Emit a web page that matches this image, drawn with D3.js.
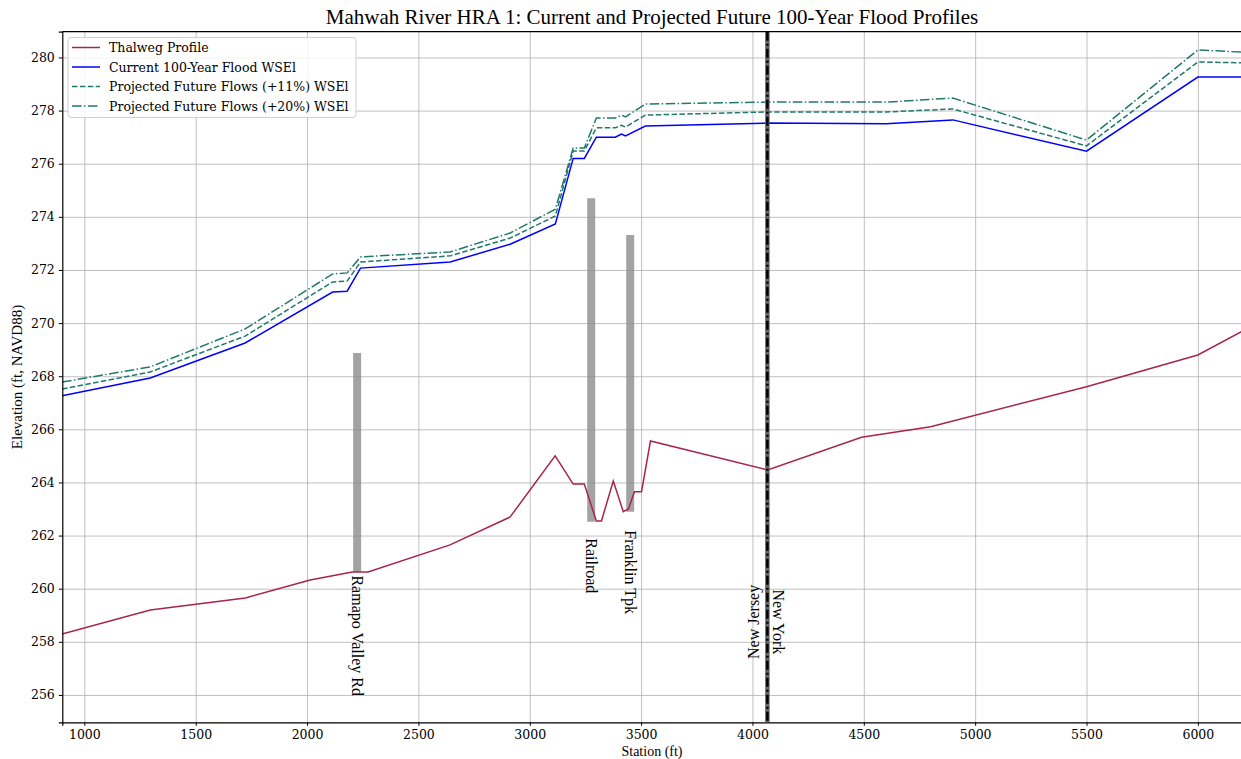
<!DOCTYPE html>
<html>
<head>
<meta charset="utf-8">
<script src="https://d3js.org/d3.v7.min.js"></script>
<style>
  body { margin: 0; background: #fff; }
  .grid line { stroke: #b0b0b0; stroke-width: 0.8; }
</style>
</head>
<body>
<svg id="chart"></svg>
<script>
// Data
// --------------------------------------------------------
const thalwegStation = [900, 1296, 1723, 2014, 2203, 2274, 2642, 2912, 3114, 3195, 3245, 3299, 3322, 3375, 3420, 3443, 3470, 3502, 3542, 4068, 4490, 4800, 5500, 6000, 6200];
const thalwegElev    = [258.29, 259.2, 259.65, 260.33, 260.63, 260.63, 261.65, 262.7, 265.0, 263.94, 263.94, 262.55, 262.55, 264.05, 262.9, 263.0, 263.65, 263.65, 265.56, 264.47, 265.7, 266.1, 267.6, 268.8, 269.7];

const wseStation  = [900, 1296, 1722, 2115, 2180, 2240, 2643, 2912, 3115, 3195, 3245, 3299, 3384, 3412, 3430, 3519, 4067, 4600, 4900, 5500, 6000, 6200];
const currentWse  = [267.26, 267.93, 269.25, 271.17, 271.2, 272.07, 272.3, 272.97, 273.73, 276.2, 276.2, 277.0, 277.0, 277.12, 277.05, 277.42, 277.53, 277.5, 277.65, 276.47, 279.26, 279.26];
const future11Wse = [267.52, 268.16, 269.51, 271.55, 271.58, 272.3, 272.53, 273.2, 274.03, 276.48, 276.48, 277.35, 277.35, 277.45, 277.38, 277.83, 277.95, 277.95, 278.06, 276.67, 279.83, 279.8];
const future20Wse = [267.78, 268.35, 269.78, 271.85, 271.89, 272.49, 272.68, 273.39, 274.29, 276.59, 276.59, 277.72, 277.72, 277.83, 277.76, 278.25, 278.32, 278.32, 278.47, 276.89, 280.28, 280.2];

const bridgeNames   = ['Ramapo Valley Rd', 'Railroad', 'Franklin Tpk'];
const bridgeStation = [2225, 3276, 3451];
const bridgeLow     = [260.63, 262.52, 262.9];
const bridgeHigh    = [268.87, 274.7, 273.32];
const bridgeLabelAt = [260.5, 261.9, 262.2];

const stateLineStation = 4067;
const stateNames = ['New Jersey', 'New York'];
const stateLabelAt = 258.75;

const xTicks = [1000, 1500, 2000, 2500, 3000, 3500, 4000, 4500, 5000, 5500, 6000];
const yTicks = [256, 258, 260, 262, 264, 266, 268, 270, 272, 274, 276, 278, 280];

// 1. SVG canvas
const width = 1241;
const height = 759;
const padding = { top: 31.7, right: -1.4, bottom: 36.7, left: 62.3 };

const svg = d3.select('#chart')
    .attr('width', width)
    .attr('height', height)
    .style('display', 'block');

const serif = "'Liberation Serif', 'Times New Roman', serif";
const dejavu = "'DejaVu Serif', serif";

// 2. Scales
const xScale = d3.scaleLinear()
    .domain([901, 6200])
    .range([padding.left, width - padding.right]);
const yScale = d3.scaleLinear()
    .domain([254.97, 280.97])
    .range([height - padding.bottom, padding.top]);

svg.append('defs').append('clipPath')
    .attr('id', 'plot-clip')
    .append('rect')
    .attr('x', padding.left)
    .attr('y', padding.top)
    .attr('width', width - padding.left - padding.right)
    .attr('height', height - padding.top - padding.bottom);

// 3. Grid
svg.append('g')
    .attr('class', 'grid')
    .attr('transform', `translate(0,${height - padding.bottom})`)
    .call(d3.axisBottom(xScale).tickValues(xTicks).tickSize(-(height - padding.top - padding.bottom)).tickFormat(''))
    .select('.domain').remove();
svg.append('g')
    .attr('class', 'grid')
    .attr('transform', `translate(${padding.left},0)`)
    .call(d3.axisLeft(yScale).tickValues(yTicks).tickSize(-(width - padding.left)).tickFormat(''))
    .select('.domain').remove();

// 4. Draw data
const plot = svg.append('g').attr('clip-path', 'url(#plot-clip)');

// bridges
bridgeNames.forEach((name, i) => {
    plot.append('line')
        .attr('x1', xScale(bridgeStation[i]))
        .attr('x2', xScale(bridgeStation[i]))
        .attr('y1', yScale(bridgeLow[i]))
        .attr('y2', yScale(bridgeHigh[i]))
        .attr('stroke', '#8c8c8c')
        .attr('stroke-opacity', 0.8)
        .attr('stroke-width', 8);
    const bx = xScale(bridgeStation[i]);
    const by = yScale(bridgeLabelAt[i]);
    svg.append('text')
        .attr('transform', `translate(${bx},${by}) rotate(90)`)
        .attr('text-anchor', 'start')
        .attr('dominant-baseline', 'central')
        .style('font-family', serif)
        .style('font-size', '16px')
        .text(name);
});

const line = d3.line()
    .x(d => xScale(d[0]))
    .y(d => yScale(d[1]));

const series = [
    { name: 'Thalweg Profile', sta: thalwegStation, vals: thalwegElev, color: '#a8244a', dash: null },
    { name: 'Current 100-Year Flood WSEl', sta: wseStation, vals: currentWse, color: '#0000ff', dash: null },
    { name: 'Projected Future Flows (+11%) WSEl', sta: wseStation, vals: future11Wse, color: '#1f7a68', dash: '5.5,2.4' },
    { name: 'Projected Future Flows (+20%) WSEl', sta: wseStation, vals: future20Wse, color: '#1f7a68', dash: '9.6,2.4,1.5,2.4' }
];

series.forEach(s => {
    plot.append('path')
        .datum(s.sta.map((st, i) => [st, s.vals[i]]))
        .attr('d', line)
        .attr('fill', 'none')
        .attr('stroke', s.color)
        .attr('stroke-width', 1.5)
        .attr('stroke-dasharray', s.dash);
});

// state line
const sx = xScale(stateLineStation);
plot.append('line')
    .attr('x1', sx).attr('x2', sx)
    .attr('y1', padding.top).attr('y2', height - padding.bottom)
    .attr('stroke', '#666')
    .attr('stroke-width', 4.5);
plot.append('line')
    .attr('x1', sx).attr('x2', sx)
    .attr('y1', padding.top).attr('y2', height - padding.bottom)
    .attr('stroke', '#000')
    .attr('stroke-width', 2.5)
    .attr('stroke-dasharray', '9,3,2,3');

svg.append('text')
    .attr('transform', `translate(${sx - 14},${yScale(stateLabelAt)}) rotate(-90)`)
    .attr('text-anchor', 'middle')
    .attr('dominant-baseline', 'central')
    .style('font-family', serif)
    .style('font-size', '16px')
    .text(stateNames[0]);
svg.append('text')
    .attr('transform', `translate(${sx + 11},${yScale(stateLabelAt)}) rotate(90)`)
    .attr('text-anchor', 'middle')
    .attr('dominant-baseline', 'central')
    .style('font-family', serif)
    .style('font-size', '16px')
    .text(stateNames[1]);

// 5. Axes
svg.append('g')
    .attr('transform', `translate(0,${height - padding.bottom})`)
    .attr('font-family', dejavu)
    .call(d3.axisBottom(xScale).tickValues(xTicks).tickSize(3.5).tickPadding(4).tickFormat(d3.format('d')))
    .call(g => g.select('.domain').attr('stroke', '#000').attr('stroke-width', 1.2))
    .call(g => g.selectAll('.tick text').style('font-family', dejavu).style('font-size', '12.5px'));
svg.append('g')
    .attr('transform', `translate(${padding.left},0)`)
    .call(d3.axisLeft(yScale).tickValues(yTicks).tickSize(3.5).tickPadding(4).tickFormat(d3.format('d')))
    .call(g => g.select('.domain').attr('stroke', '#000').attr('stroke-width', 1.2))
    .call(g => g.selectAll('.tick text').style('font-family', dejavu).style('font-size', '12.5px'));
svg.append('line')
    .attr('x1', padding.left).attr('x2', width)
    .attr('y1', padding.top).attr('y2', padding.top)
    .attr('stroke', '#000').attr('stroke-width', 1.2);

svg.append('text')
    .attr('x', 652)
    .attr('y', 24)
    .attr('text-anchor', 'middle')
    .style('font-family', serif)
    .style('font-size', '21px')
    .text('Mahwah River HRA 1: Current and Projected Future 100-Year Flood Profiles');

svg.append('text')
    .attr('x', 652)
    .attr('y', 756)
    .attr('text-anchor', 'middle')
    .style('font-family', serif)
    .style('font-size', '14px')
    .text('Station (ft)');

svg.append('text')
    .attr('transform', `translate(22,${(padding.top + height - padding.bottom) / 2}) rotate(-90)`)
    .attr('text-anchor', 'middle')
    .style('font-family', serif)
    .style('font-size', '15px')
    .text('Elevation (ft, NAVD88)');

// 6. Legend
const legend = svg.append('g').attr('transform', 'translate(68,37.5)');
legend.append('rect')
    .attr('width', 288)
    .attr('height', 80)
    .attr('rx', 3)
    .attr('fill', '#fff')
    .attr('fill-opacity', 0.85)
    .attr('stroke', '#d0d0d0');

series.forEach((s, i) => {
    const y = 10 + i * 19.5;
    legend.append('line')
        .attr('x1', 4).attr('x2', 32)
        .attr('y1', y).attr('y2', y)
        .attr('stroke', s.color)
        .attr('stroke-width', 1.5)
        .attr('stroke-dasharray', s.dash);
    legend.append('text')
        .attr('x', 41)
        .attr('y', y)
        .attr('dominant-baseline', 'central')
        .style('font-family', dejavu)
        .style('font-size', '12.5px')
        .text(s.name);
});
</script>
</body>
</html>
